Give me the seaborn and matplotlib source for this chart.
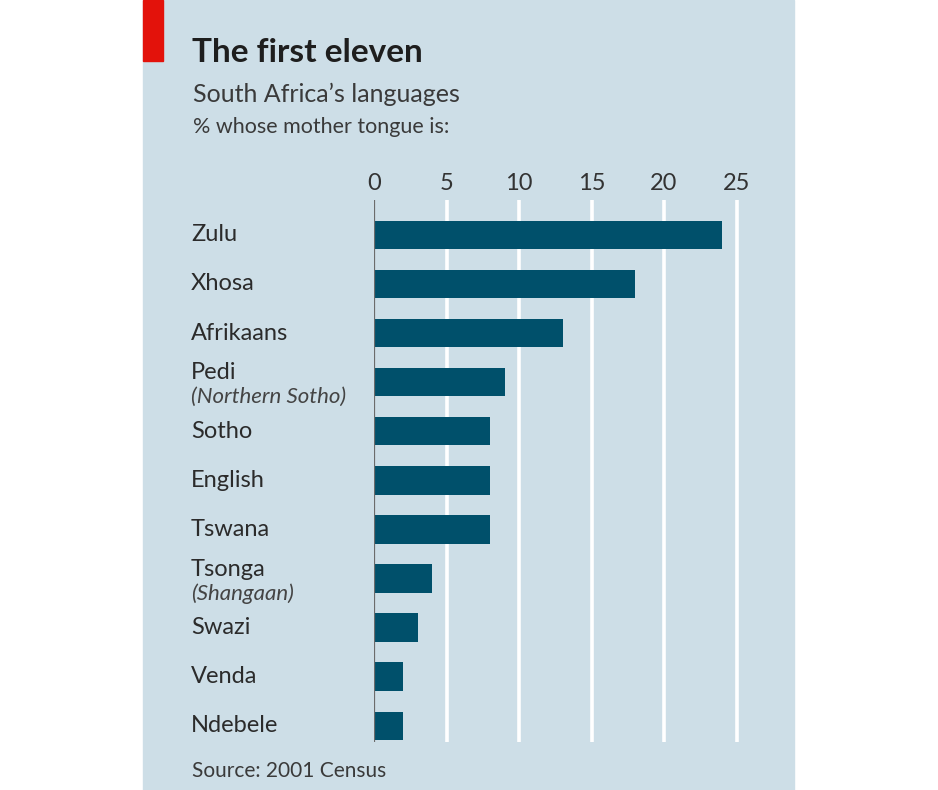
import matplotlib
matplotlib.use("Agg")
import matplotlib.pyplot as plt
import matplotlib.transforms as mtransforms
import seaborn as sns
import pandas as pd

# data
languages = ["Zulu", "Xhosa", "Afrikaans", "Pedi", "Sotho", "English",
             "Tswana", "Tsonga", "Swazi", "Venda", "Ndebele"]
sublabels = ["", "", "", "(Northern Sotho)", "", "", "", "(Shangaan)", "", "", ""]
share = [24, 18, 13, 9, 8, 8, 8, 4, 3, 2, 2]
ticks = [0, 5, 10, 15, 20, 25]

title = "The first eleven"
subtitle = "South Africa\u2019s languages"
unit_note = "% whose mother tongue is:"
source = "Source: 2001 Census"

BG = "#cddee7"
BAR = "#00506b"
TXT = "#2b2b2b"
FONT = "Lato"

W, H = 938, 790
fig = plt.figure(figsize=(W / 100, H / 100), dpi=100)
fig.patch.set_facecolor("white")


def px(x, y):
    # pixel coordinates (top-left origin) to figure fraction
    return x / W, 1 - y / H


# light-blue panel and red tab (drawn below the axes)
fig.patches.append(plt.Rectangle(px(143, 790), (794 - 143) / W, 1,
                                 transform=fig.transFigure, color=BG, zorder=-2))
fig.patches.append(plt.Rectangle(px(143, 61), (163 - 143) / W, 61 / H,
                                 transform=fig.transFigure, color="#e3120b", zorder=-1))

# axes placement in pixels
left, right, top, bottom = 374, 751, 200, 742
ax = fig.add_axes([left / W, 1 - bottom / H, (right - left) / W, (bottom - top) / H])
ax.set_facecolor("none")
ax.set_zorder(2)

df = pd.DataFrame({"language": languages, "share": share})
sns.barplot(data=df, x="share", y="language", orient="h", color=BAR,
            saturation=1, width=0.58, ax=ax, zorder=3)

ax.set_xlim(0, 26)
ax.set_ylim(10.33, -0.71)
for t in ticks[1:]:
    ax.axvline(t, color="white", lw=2.6, zorder=1)
ax.axvline(0, color="#6b6b6b", lw=1.6, zorder=4)

for s in ax.spines.values():
    s.set_visible(False)
ax.set_xlabel("")
ax.set_ylabel("")
ax.set_yticks([])
ax.set_xticks(ticks)
ax.xaxis.tick_top()
ax.tick_params(axis="x", length=0, pad=4, labelsize=17, labelcolor="#333333")
for lab in ax.get_xticklabels():
    lab.set_fontfamily(FONT)

# category labels, left aligned in the panel
trans = mtransforms.blended_transform_factory(fig.transFigure, ax.transData)
for i, (name, sub) in enumerate(zip(languages, sublabels)):
    if sub:
        ax.text(191 / W, i - 0.19, name, transform=trans, ha="left", va="center",
                fontsize=17, color=TXT, family=FONT)
        ax.text(191 / W, i + 0.31, sub, transform=trans, ha="left", va="center",
                fontsize=16, color="#444444", family=FONT, style="italic")
    else:
        ax.text(191 / W, i, name, transform=trans, ha="left", va="center",
                fontsize=17, color=TXT, family=FONT)

# titles and source
fig.text(*px(192, 62), title, fontsize=24, fontweight="bold", color="#1e1e1e",
         family=FONT, ha="left", va="baseline")
fig.text(*px(193, 102), subtitle, fontsize=18, color="#3a3a3a",
         family=FONT, ha="left", va="baseline")
fig.text(*px(193, 133), unit_note, fontsize=15.5, color="#3a3a3a",
         family=FONT, ha="left", va="baseline")
fig.text(*px(192, 777), source, fontsize=15, color="#3a3a3a",
         family=FONT, ha="left", va="baseline")

fig.savefig("out.png", dpi=100, facecolor=fig.get_facecolor())
